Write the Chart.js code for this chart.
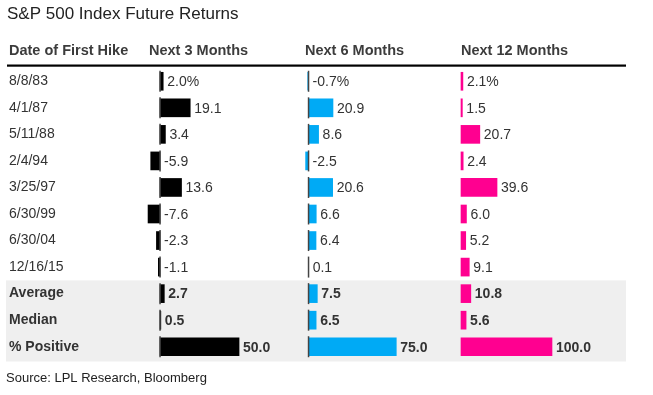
<!DOCTYPE html>
<html>
<head>
<meta charset="utf-8">
<script src="https://cdn.jsdelivr.net/npm/chart.js@4"></script>
<style>
  html, body { margin: 0; padding: 0; background: #fff; }
  #wrap { width: 653px; height: 395px; position: relative; }
</style>
</head>
<body>
<div id="wrap"><canvas id="table"></canvas></div>
<script>
// rows of the table
const dates = ["8/8/83", "4/1/87", "5/11/88", "2/4/94", "3/25/97", "6/30/99", "6/30/04", "12/16/15", "Average", "Median", "% Positive"];
const summaryRows = 3;

// returns (%) per horizon
const next3 = [2.0, 19.1, 3.4, -5.9, 13.6, -7.6, -2.3, -1.1, 2.7, 0.5, 50.0];
const next6 = [-0.7, 20.9, 8.6, -2.5, 20.6, 6.6, 6.4, 0.1, 7.5, 6.5, 75.0];
const next12 = [2.1, 1.5, 20.7, 2.4, 39.6, 6.0, 5.2, 9.1, 10.8, 5.6, 100.0];

const headers = ["Date of First Hike", "Next 3 Months", "Next 6 Months", "Next 12 Months"];
const title = "S&P 500 Index Future Returns";
const source = "Source: LPL Research, Bloomberg";

const FONT = '"Liberation Sans", Arial, sans-serif';
const TEXT = "#333333";

// one x axis per column, min/max chosen so zero sits under each header
const columns = [
    {data: next3, color: "#000000", axis: "x1", zeroLine: true},
    {data: next6, color: "#00aaf5", axis: "x2", zeroLine: true},
    {data: next12, color: "#ff0090", axis: "x3", zeroLine: false}
];

function fmt(v, i) {
    return v.toFixed(1) + (i === 0 ? "%" : "");
}

const tablePlugin = {
    id: "tablePlugin",
    beforeDatasetsDraw(chart) {
        const ctx = chart.ctx;
        const y = chart.scales.y;
        const band = (y.bottom - y.top) / dates.length;
        ctx.save();

        // title
        ctx.fillStyle = "#222";
        ctx.font = "17px " + FONT;
        ctx.textBaseline = "alphabetic";
        ctx.fillText(title, 7, 19);

        // headers
        ctx.fillStyle = "#3c3c3c";
        ctx.font = "bold 14.5px " + FONT;
        const headX = [9, 149, 305, 461];
        headers.forEach((h, i) => ctx.fillText(h, headX[i], 55));

        // header rule
        ctx.fillStyle = "#000";
        ctx.fillRect(7, 64.5, 619, 2.2);

        // grey band behind summary rows
        const firstSummary = dates.length - summaryRows;
        const top = y.getPixelForValue(firstSummary) - band / 2;
        ctx.fillStyle = "#efefef";
        ctx.fillRect(6, top, 620, y.bottom - top + 1.5);

        // row labels
        ctx.fillStyle = TEXT;
        dates.forEach((d, i) => {
            const cy = y.getPixelForValue(i);
            ctx.font = (i >= firstSummary ? "bold " : "") + "14px " + FONT;
            ctx.textBaseline = "middle";
            ctx.fillText(d, 9, cy);
        });

        // source
        ctx.font = "13px " + FONT;
        ctx.fillStyle = "#222";
        ctx.textBaseline = "middle";
        ctx.fillText(source, 6, 378);
        ctx.restore();
    },
    afterDatasetsDraw(chart) {
        const ctx = chart.ctx;
        const y = chart.scales.y;
        const firstSummary = dates.length - summaryRows;
        ctx.save();
        columns.forEach((col) => {
            const xs = chart.scales[col.axis];
            const x0 = xs.getPixelForValue(0);
            col.data.forEach((v, i) => {
                const cy = y.getPixelForValue(i);
                if (col.zeroLine) {
                    ctx.strokeStyle = "#444";
                    ctx.lineWidth = 1.5;
                    ctx.beginPath();
                    ctx.moveTo(x0, cy - 10.5);
                    ctx.lineTo(x0, cy + 10.5);
                    ctx.stroke();
                }
                const end = Math.max(x0, xs.getPixelForValue(v));
                ctx.fillStyle = TEXT;
                ctx.font = (i >= firstSummary ? "bold " : "") + "14px " + FONT;
                ctx.textBaseline = "middle";
                ctx.fillText(fmt(v, i), end + 4, cy + 1);
            });
        });
        ctx.restore();
    }
};

new Chart(document.getElementById("table"), {
    type: "bar",
    data: {
        labels: dates,
        datasets: columns.map((col) => ({
            data: col.data,
            backgroundColor: col.color,
            xAxisID: col.axis,
            grouped: false,
            barThickness: 18,
            borderWidth: 0
        }))
    },
    options: {
        indexAxis: "y",
        responsive: true,
        maintainAspectRatio: false,
        animation: false,
        layout: {padding: {top: 68, bottom: 35, left: 0, right: 0}},
        scales: {
            y: {display: false},
            x1: {display: false, min: -101.3, max: 312},
            x2: {display: false, min: -263.7, max: 294.4},
            x3: {display: false, min: -506.6, max: 211}
        },
        plugins: {
            legend: {display: false},
            tooltip: {enabled: false}
        }
    },
    plugins: [tablePlugin]
});
</script>
</body>
</html>
